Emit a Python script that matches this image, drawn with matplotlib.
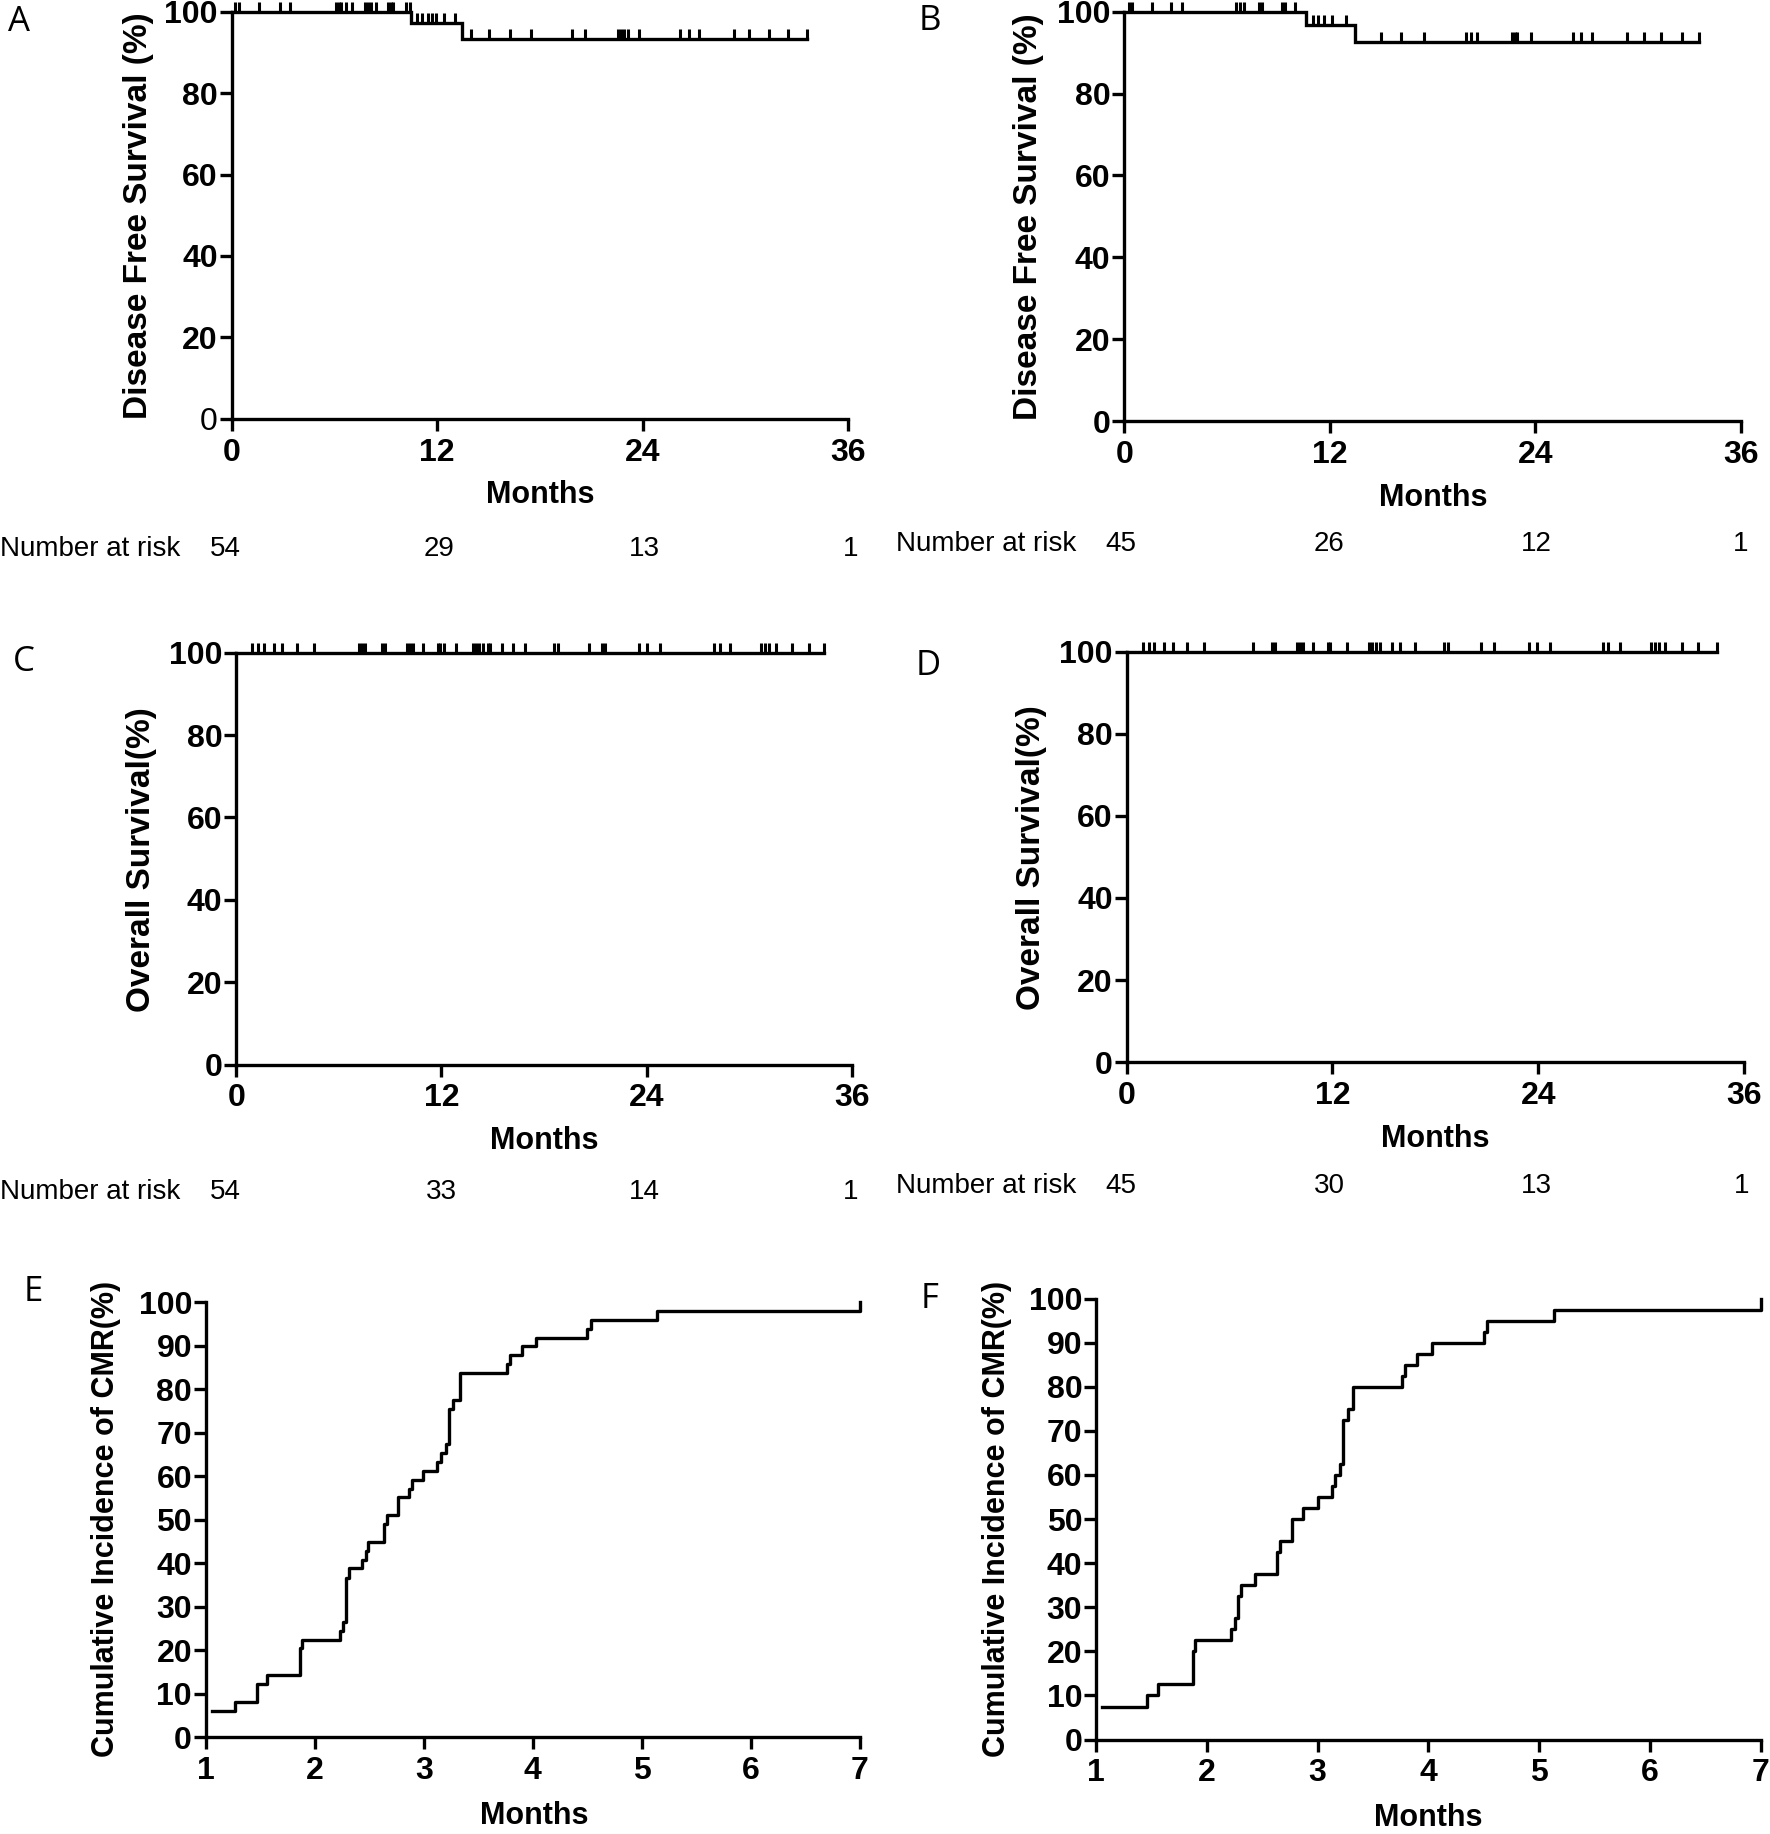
import numpy as np
import matplotlib
matplotlib.use("Agg")
import matplotlib.pyplot as plt
from matplotlib import font_manager

W, H = 1770, 1834
S = 1770 / 1513.0  # shrunk -> full scale

# ---------------- DATA ----------------
# Panel A: disease free survival (all patients)
a_event_times = [10.5, 13.47]
a_levels = [100, 97.3, 93.4]
a_end = 33.6
a_censor = [0.22, 0.41, 1.60, 2.81, 3.42, 6.08, 6.25, 6.40, 6.69, 7.0, 7.78, 7.95, 8.14, 8.41,
            9.11, 9.28, 9.43, 10.2, 10.39,
            10.85, 11.1, 11.45, 11.7, 11.95, 12.4, 13.05,
            13.96, 15.05, 16.26, 17.47, 19.9, 20.62, 22.56, 22.73, 22.93, 23.17, 23.77,
            26.2, 26.68, 27.29, 29.35, 30.19, 31.4, 32.5, 33.6]
a_risk = [54, 29, 13, 1]

# Panel B
b_event_times = [10.6, 13.46]
b_levels = [100, 96.8, 92.5]
b_end = 33.58
b_censor = [0.27, 0.43, 1.61, 2.73, 3.4, 6.53, 6.75, 6.97, 7.87, 8.05, 9.21, 9.39, 9.99,
            11.0, 11.34, 11.67, 12.12, 12.97,
            15.02, 16.14, 17.48, 19.94, 20.27, 20.61, 22.62, 22.8, 22.96, 23.74,
            26.2, 26.65, 27.32, 29.33, 30.34, 31.34, 32.57, 33.58]
b_risk = [45, 26, 12, 1]

# Panel C: overall survival
c_end = 34.41
c_censor = [0.94, 1.29, 1.61, 2.22, 2.7, 3.55, 4.52, 7.19, 7.36, 7.55, 8.52, 8.71, 9.98, 10.17,
            10.36, 10.95, 11.79, 11.91, 12.16, 12.88, 13.85, 14.05, 14.22, 14.46, 14.7, 14.82,
            15.55, 16.16, 16.88, 18.58, 18.82, 20.64, 21.37, 21.56, 23.55, 24.04, 24.77, 27.92,
            28.28, 28.89, 30.7, 30.95, 31.19, 31.55, 32.52, 33.49, 34.41]
c_risk = [54, 33, 14, 1]

# Panel D
d_end = 34.42
d_censor = [0.94, 1.29, 1.6, 2.21, 2.69, 3.53, 4.5, 7.39, 8.48, 8.67, 9.93, 10.12, 10.31, 10.89,
            11.74, 11.86, 12.82, 14.15, 14.32, 14.51, 14.75, 15.48, 15.96, 16.81, 18.5, 18.74,
            20.67, 21.39, 23.44, 23.93, 24.65, 27.79, 28.03, 28.75, 30.56, 30.8, 31.04, 31.4,
            32.37, 33.33, 34.42]
d_risk = [45, 30, 13, 1]

# Panel E: cumulative incidence of CMR
e_times = [1.06, 1.27, 1.47, 1.56, 1.86, 1.88, 2.23, 2.26, 2.29, 2.31, 2.43, 2.47, 2.49, 2.63,
           2.66, 2.76, 2.86, 2.89, 2.99, 3.12, 3.16, 3.20, 3.23, 3.27, 3.33, 3.76, 3.79, 3.90,
           4.03, 4.50, 4.53, 5.14, 7.0]
e_values = [6.1, 8.2, 12.2, 14.3, 20.4, 22.4, 24.5, 26.5, 36.7, 38.8, 40.8, 42.9, 44.9, 49.0,
            51.0, 55.1, 57.1, 59.2, 61.2, 63.3, 65.3, 67.3, 75.5, 77.6, 83.7, 85.7, 87.8, 89.8,
            91.8, 93.9, 95.9, 98.0, 100.0]

# Panel F
f_times = [1.05, 1.46, 1.56, 1.87, 1.89, 2.22, 2.25, 2.28, 2.31, 2.43, 2.63, 2.66, 2.77, 2.87,
           3.0, 3.13, 3.16, 3.20, 3.23, 3.27, 3.32, 3.76, 3.79, 3.90, 4.03, 4.50, 4.53, 5.13, 7.0]
f_values = [7.5, 10.0, 12.5, 20.0, 22.5, 25.0, 27.5, 32.5, 35.0, 37.5, 42.5, 45.0, 50.0, 52.5,
            55.0, 57.5, 60.0, 62.5, 72.5, 75.0, 80.0, 82.5, 85.0, 87.5, 90.0, 92.5, 95.0, 97.5,
            100.0]

km_xticks = [0, 12, 24, 36]
km_yticks = [0, 20, 40, 60, 80, 100]
ci_xticks = [1, 2, 3, 4, 5, 6, 7]
ci_yticks = [0, 10, 20, 30, 40, 50, 60, 70, 80, 90, 100]

# ---------------- STYLE ----------------
installed = {f.name for f in font_manager.fontManager.ttflist}
NARROW = "Liberation Sans Narrow" in installed
TICK_FAMILY = ["Liberation Sans Narrow", "Liberation Sans", "DejaVu Sans"] if NARROW else \
    ["Liberation Sans", "DejaVu Sans"]
TICK_SIZE = 27 if NARROW else 23
BOLD = dict(family=["Liberation Sans", "DejaVu Sans"], weight="bold")
ARIAL = ["Liberation Sans", "DejaVu Sans"]
LETTER = ["Open Sans", "DejaVu Sans"]
LW = 2.4

fig = plt.figure(figsize=(W / 100, H / 100), dpi=100)


def fx(x):
    return x / W


def fy(y):
    return 1 - y / H


def make_ax(l, r, t, b):
    ax = fig.add_axes([fx(l), fy(b), fx(r) - fx(l), (b - t) / H])
    for s in ["top", "right"]:
        ax.spines[s].set_visible(False)
    for s in ["left", "bottom"]:
        ax.spines[s].set_linewidth(LW)
    ax.tick_params(direction="out", length=8.5, width=LW)
    ax.tick_params(axis="y", pad=1.5)
    ax.tick_params(axis="x", pad=5)
    return ax


def style_ticks(ax):
    for lab in ax.get_xticklabels() + ax.get_yticklabels():
        lab.set_fontfamily(TICK_FAMILY)
        lab.set_fontweight("bold")
        lab.set_fontsize(TICK_SIZE)


def km_panel(box, ev_times, levels, end, censor, ylabel, ylab_xy, months_xy):
    ax = make_ax(*box)
    xs = [0] + list(ev_times) + [end]
    ys = list(levels) + [levels[-1]]
    ax.plot(xs, ys, drawstyle="steps-post", color="black", lw=LW, clip_on=False,
            solid_joinstyle="miter")
    cens = np.array(censor)
    idx = np.searchsorted(np.array(ev_times), cens, side="right")
    cy = np.array(levels)[idx]
    ax.plot(cens, cy, linestyle="none", marker=2, markersize=7.5, mew=2.2, color="black",
            clip_on=False)
    ax.set_xlim(0, 36)
    ax.set_ylim(0, 100)
    ax.set_xticks(km_xticks)
    ax.set_yticks(km_yticks)
    style_ticks(ax)
    fig.text(fx(ylab_xy[0] * S), fy(ylab_xy[1] * S), ylabel, rotation=90, ha="center",
             va="center", fontsize=24, **BOLD)
    fig.text(fx(months_xy[0] * S), fy(months_xy[1] * S), "Months", ha="center",
             va="center", fontsize=22, **BOLD)
    return ax


def risk_row(y, xtext, xs, vals):
    fig.text(fx(xtext * S), fy(y * S), "Number at risk", ha="left", va="center",
             fontsize=20, family=ARIAL)
    for x, v in zip(xs, vals):
        fig.text(fx(x * S), fy(y * S), str(v), ha="center", va="center", fontsize=20,
                 family=ARIAL)


def ci_panel(box, times, values, ylab_xy, months_xy):
    ax = make_ax(*box)
    ax.plot(times, values, drawstyle="steps-post", color="black", lw=LW, clip_on=False)
    ax.set_xlim(1, 7)
    ax.set_ylim(0, 100)
    ax.set_xticks(ci_xticks)
    ax.set_yticks(ci_yticks)
    style_ticks(ax)
    fig.text(fx(ylab_xy[0] * S), fy(ylab_xy[1] * S), "Cumulative Incidence of CMR(%)",
             rotation=90, ha="center", va="center", fontsize=22, **BOLD)
    fig.text(fx(months_xy[0] * S), fy(months_xy[1] * S), "Months", ha="center",
             va="center", fontsize=22, **BOLD)
    return ax


axA = km_panel((198 * S, 725 * S, 10 * S, 358 * S), a_event_times, a_levels, a_end, a_censor,
               "Disease Free Survival (%)", (118, 184), (462, 423))
axA.get_yticklabels()[0].set_fontweight("normal")
km_panel((961 * S, 1488 * S, 10 * S, 360 * S), b_event_times, b_levels, b_end, b_censor,
         "Disease Free Survival (%)", (879, 185), (1225, 426))
km_panel((202 * S, 728 * S, 558 * S, 910 * S), [], [100], c_end, c_censor,
         "Overall Survival(%)", (121, 735), (465, 975))
km_panel((963 * S, 1491 * S, 557 * S, 908 * S), [], [100], d_end, d_censor,
         "Overall Survival(%)", (882, 733), (1227, 974))

risk_row(469, 0, [193, 375, 551, 727], a_risk)
risk_row(465, 766, [958, 1136, 1313, 1488], b_risk)
risk_row(1019, 0, [193, 377, 551, 727], c_risk)
risk_row(1014, 766, [958, 1136, 1313, 1489], d_risk)

ci_panel((176 * S, 735 * S, 1113 * S, 1485 * S), e_times, e_values, (91, 1298), (457, 1552))
ci_panel((937 * S, 1505 * S, 1110 * S, 1487 * S), f_times, f_values, (852, 1298), (1221, 1554))

for letter, (x, y) in zip("ABCDEF", [(16, 19), (795, 18), (20, 566), (793, 569),
                                     (28, 1104), (795, 1110)]):
    fig.text(fx(x * S), fy(y * S), letter, ha="center", va="center", fontsize=25,
             family=LETTER)

fig.savefig("out.png", dpi=100)
